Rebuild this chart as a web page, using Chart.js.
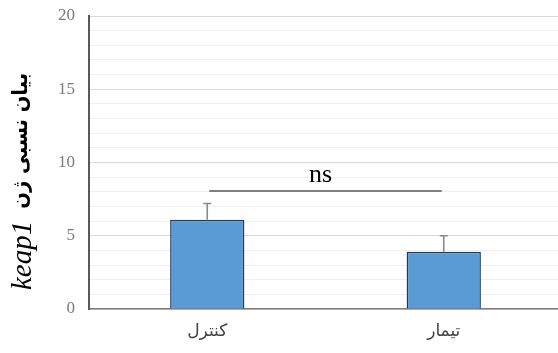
<!DOCTYPE html>
<html>
<head>
<meta charset="utf-8">
<script src="https://cdn.jsdelivr.net/npm/chart.js@4/dist/chart.umd.min.js"></script>
<style>
  html, body { margin: 0; padding: 0; background: #fff; overflow: hidden; }
  #wrap { width: 562px; height: 353px; position: relative; }
</style>
</head>
<body>
<div id="wrap"><canvas id="c"></canvas></div>
<script>
// Relative keap1 expression, control vs. treatment
const categories = ['کنترل', 'تیمار'];
const expression = [6.1, 3.9];
const errorUp = [1.1, 1.1];
const yTicks = [0, 5, 10, 15, 20];
const bracketLevel = [8.05];
const bracketText = ['ns'];

// Upward error bars, the significance bracket and the two-font axis title
const annotations = {
  id: 'annotations',
  afterDatasetsDraw(chart) {
    const ctx = chart.ctx;
    const x = chart.scales.x, y = chart.scales.y;
    ctx.save();
    // error bars
    ctx.strokeStyle = '#8a8a8a';
    ctx.lineWidth = 1.6;
    expression.forEach((v, i) => {
      const px = x.getPixelForValue(i);
      const top = y.getPixelForValue(v + errorUp[i]);
      const base = y.getPixelForValue(v);
      ctx.beginPath();
      ctx.moveTo(px, base);
      ctx.lineTo(px, top);
      ctx.moveTo(px - 4, top);
      ctx.lineTo(px + 4, top);
      ctx.stroke();
    });
    // bracket between the two groups
    const x0 = x.getPixelForValue(0) + 2, x1 = x.getPixelForValue(1) - 2;
    const by = y.getPixelForValue(bracketLevel[0]);
    ctx.strokeStyle = '#7f7f7f';
    ctx.lineWidth = 2;
    ctx.beginPath();
    ctx.moveTo(x0, by);
    ctx.lineTo(x1, by);
    ctx.stroke();
    ctx.fillStyle = '#000';
    ctx.font = '26px "Liberation Serif", "DejaVu Serif", serif';
    ctx.textAlign = 'center';
    ctx.textBaseline = 'alphabetic';
    ctx.fillText(bracketText[0], (x0 + x1) / 2 - 5, by - 9);
    ctx.restore();

    // rotated y-axis title
    ctx.save();
    ctx.translate(22, 180);
    ctx.rotate(-Math.PI / 2);
    ctx.fillStyle = '#000';
    ctx.textBaseline = 'middle';
    ctx.save();
    ctx.scale(0.93, 1);
    ctx.textAlign = 'right';
    ctx.font = 'bold 21px "DejaVu Sans", sans-serif';
    ctx.fillText('بیان نسبی ژن', 107 / 0.93, 0);
    ctx.restore();
    ctx.textAlign = 'left';
    ctx.font = 'italic 29px "Liberation Serif", "DejaVu Serif", serif';
    ctx.fillText('keap1', -110, 1);
    ctx.restore();
  }
};

new Chart(document.getElementById('c'), {
  type: 'bar',
  data: {
    labels: categories,
    datasets: [{
      data: expression,
      backgroundColor: '#5b9bd5',
      borderColor: '#1f3a56',
      borderWidth: 1.5,
      borderSkipped: 'bottom',
      categoryPercentage: 1,
      barPercentage: 0.314
    }]
  },
  options: {
    responsive: true,
    maintainAspectRatio: false,
    animation: false,
    devicePixelRatio: 1,
    layout: { padding: { top: 16, left: 0, right: 0, bottom: 0 } },
    plugins: { legend: { display: false }, tooltip: { enabled: false } },
    scales: {
      x: {
        grid: { display: false, drawTicks: false },
        border: { color: '#7f7f7f', width: 1.5 },
        ticks: {
          color: '#404040',
          padding: 12,
          font: { family: '"DejaVu Sans", sans-serif', size: 17 }
        },
        afterFit(s) { s.height = 44; s.paddingLeft = 0; s.paddingRight = 0; }
      },
      y: {
        min: 0,
        max: 20,
        grid: {
          drawTicks: false,
          color: (c) => (yTicks.includes(c.tick.value) ? '#d9d9d9' : '#efefef'),
          lineWidth: 1
        },
        border: { color: '#595959', width: 2 },
        ticks: {
          stepSize: 1,
          autoSkip: false,
          padding: 14,
          color: '#7a7a7a',
          font: { family: '"Liberation Serif", "DejaVu Serif", serif', size: 17 },
          callback: (v) => (yTicks.includes(v) ? String(v) : '')
        },
        afterFit(s) { s.width = 89; s.paddingTop = 0; s.paddingBottom = 0; }
      }
    }
  },
  plugins: [annotations]
});
</script>
</body>
</html>
